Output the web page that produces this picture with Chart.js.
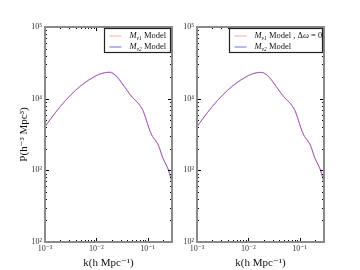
<!DOCTYPE html>
<html>
<head>
<meta charset="utf-8">
<script src="https://cdn.jsdelivr.net/npm/chart.js@4/dist/chart.umd.min.js"></script>
<style>
  html, body { margin: 0; padding: 0; background: #fff; }
  #wrap { position: relative; width: 360px; height: 270px; }
  .panel { position: absolute; top: 0; width: 180px; height: 270px; }
</style>
</head>
<body>
<div id="wrap">
  <div class="panel" style="left:0"><canvas id="c1" width="180" height="270"></canvas></div>
  <div class="panel" style="left:180px"><canvas id="c2" width="180" height="270"></canvas></div>
</div>
<script>
// ---- data ----
const kValues   = [0.001, 0.001585, 0.002512, 0.003981, 0.00631, 0.0100, 0.01259, 0.01585, 0.01995, 0.02512, 0.03162, 0.03981, 0.05012, 0.0631, 0.07943, 0.100, 0.1122, 0.1259, 0.1585, 0.1995, 0.2512, 0.300];
const pNu1Left  = [4064, 6353, 9441, 13152, 17179, 20990, 22400, 23350, 23350, 20700, 16750, 13250, 10550, 8950, 7100, 4470, 3510, 2950, 2344, 1479, 1047, 676];
const pNu2Left  = [4064, 6353, 9441, 13152, 17179, 20990, 22390, 23170, 22910, 20230, 16400, 13030, 10470, 8910, 7080, 4470, 3510, 2950, 2344, 1479, 1047, 676];
const pNu1Right = [4064, 6353, 9441, 13152, 17179, 20990, 22390, 23170, 22910, 20230, 16400, 13030, 10470, 8910, 7080, 4470, 3510, 2950, 2344, 1479, 1047, 676];
const pNu2Right = [4064, 6353, 9441, 13152, 17179, 20990, 22390, 23170, 22910, 20230, 16400, 13030, 10470, 8910, 7080, 4470, 3510, 2950, 2344, 1479, 1047, 676];
const xTickValues = [0.001, 0.01, 0.1];
const xTickLabels = ['10\u207B\u00B3', '10\u207B\u00B2', '10\u207B\u00B9'];
const yTickValues = [100, 1000, 10000, 100000];
const yTickLabels = ['10\u00B2', '10\u00B3', '10\u2074', '10\u2075'];
const xTitle = 'k(h Mpc\u207B\u00B9)';
const yTitle = 'P(h\u207B\u00B3 Mpc\u00B3)';
const legendLeft = [
  [{t:'M', it:true}, {t:'\u03BD1', sub:true}, {t:' Model'}],
  [{t:'M', it:true}, {t:'\u03BD2', sub:true}, {t:' Model'}]
];
const legendRight = [
  [{t:'M', it:true}, {t:'\u03BD1', sub:true}, {t:' Model , \u0394'}, {t:'\u03C9', it:true}, {t:' = 0'}],
  [{t:'M', it:true}, {t:'\u03BD2', sub:true}, {t:' Model'}]
];

const RED = 'rgba(255,70,70,0.45)';
const BLUE = 'rgba(60,60,255,0.75)';
const SERIF = '"Liberation Serif", "DejaVu Serif", serif';

function pts(arr) { return kValues.map((k, i) => ({x: k, y: arr[i]})); }

const framePlugin = {
  id: 'frame',
  afterDatasetsDraw(chart, args, opts) {
    const ctx = chart.ctx;
    const a = chart.chartArea;
    const xs = chart.scales.x, ys = chart.scales.y;
    ctx.save();
    ctx.strokeStyle = '#000';
    ctx.lineWidth = 1;
    for (let d = -3; d <= 0; d++) {
      for (let m = 1; m <= 9; m++) {
        const v = m * Math.pow(10, d);
        if (v < xs.min * 0.999 || v > xs.max * 1.001) continue;
        const px = Math.round(xs.getPixelForValue(v)) + 0.5;
        const L = m === 1 ? 4 : 2;
        ctx.beginPath();
        ctx.moveTo(px, a.bottom); ctx.lineTo(px, a.bottom - L);
        ctx.moveTo(px, a.top); ctx.lineTo(px, a.top + L);
        ctx.stroke();
      }
    }
    for (let d = 2; d <= 5; d++) {
      for (let m = 1; m <= 9; m++) {
        const v = m * Math.pow(10, d);
        if (v < ys.min * 0.999 || v > ys.max * 1.001) continue;
        const py = Math.round(ys.getPixelForValue(v)) + 0.5;
        const L = m === 1 ? 4 : 2;
        ctx.beginPath();
        ctx.moveTo(a.left, py); ctx.lineTo(a.left + L, py);
        ctx.moveTo(a.right, py); ctx.lineTo(a.right - L, py);
        ctx.stroke();
      }
    }
    ctx.strokeStyle = '#8a8a8a';
    ctx.lineWidth = 2;
    ctx.strokeRect(a.left, a.top, a.right - a.left, a.bottom - a.top);
    // legend
    const lg = opts.items;
    const bx = a.right - opts.boxW - 1.5, by = a.top + 1.5;
    ctx.fillStyle = '#fff';
    ctx.fillRect(bx, by, opts.boxW, 24);
    ctx.strokeStyle = '#222';
    ctx.lineWidth = 1.2;
    ctx.strokeRect(bx, by, opts.boxW, 24);
    const colors = [RED, BLUE];
    lg.forEach((segs, i) => {
      const cy = by + 7.5 + i * 11;
      ctx.strokeStyle = colors[i];
      ctx.lineWidth = 1;
      ctx.beginPath();
      ctx.moveTo(bx + 5, cy); ctx.lineTo(bx + 17, cy);
      ctx.stroke();
      let tx = bx + 25;
      ctx.fillStyle = '#111';
      ctx.textBaseline = 'middle';
      ctx.textAlign = 'left';
      segs.forEach(s => {
        if (s.sub) {
          ctx.font = 'italic 5.5px ' + SERIF;
          ctx.fillText(s.t, tx, cy + 2.5);
        } else {
          ctx.font = (s.it ? 'italic ' : '') + '8.5px ' + SERIF;
          ctx.fillText(s.t, tx, cy);
        }
        tx += ctx.measureText(s.t).width;
      });
    });
    ctx.restore();
  }
};

function makeChart(id, red, blue, yAxisWidth, rightPad, showYTitle, legendItems, boxW) {
  return new Chart(document.getElementById(id), {
    type: 'line',
    data: {
      datasets: [
        { data: pts(red), borderColor: RED, borderWidth: 1, pointRadius: 0, fill: false, tension: 0.35 },
        { data: pts(blue), borderColor: BLUE, borderWidth: 1, pointRadius: 0, fill: false, tension: 0.35 }
      ]
    },
    options: {
      responsive: false,
      animation: false,
      devicePixelRatio: 1,
      layout: { padding: { top: 27, right: rightPad, left: 0, bottom: 0 } },
      plugins: {
        legend: { display: false },
        tooltip: { enabled: false },
        frame: { items: legendItems, boxW: boxW }
      },
      scales: {
        x: {
          type: 'logarithmic', min: 0.001, max: 0.3, position: 'bottom',
          afterBuildTicks(s) { s.ticks = xTickValues.map(v => ({ value: v, major: true })); },
          afterFit(s) { s.height = 28; },
          ticks: {
            autoSkip: false, maxRotation: 0, padding: 2, color: '#333',
            font: { family: SERIF, size: 8 },
            callback(v) { const i = xTickValues.findIndex(t => Math.abs(t - v) / t < 1e-6); return i >= 0 ? xTickLabels[i] : ''; }
          },
          grid: { display: false, drawTicks: false },
          border: { display: false },
          title: { display: true, text: xTitle, color: '#111', font: { family: SERIF, size: 11 }, padding: { top: 3, bottom: 0 } }
        },
        y: {
          type: 'logarithmic', min: 100, max: 100000, position: 'left',
          afterBuildTicks(s) { s.ticks = yTickValues.map(v => ({ value: v, major: true })); },
          afterFit(s) { s.width = yAxisWidth; },
          ticks: {
            autoSkip: false, padding: 3, color: '#333',
            font: { family: SERIF, size: 8 },
            callback(v) { const i = yTickValues.findIndex(t => Math.abs(t - v) / t < 1e-6); return i >= 0 ? yTickLabels[i] : ''; }
          },
          grid: { display: false, drawTicks: false },
          border: { display: false },
          title: { display: showYTitle, text: yTitle, color: '#111', font: { family: SERIF, size: 11 }, padding: { top: 18, bottom: 0 } }
        }
      }
    },
    plugins: [framePlugin]
  });
}

makeChart('c1', pNu1Left, pNu2Left, 45, 8, true, legendLeft, 66);
makeChart('c2', pNu1Right, pNu2Right, 17, 36, false, legendRight, 93);
</script>
</body>
</html>
